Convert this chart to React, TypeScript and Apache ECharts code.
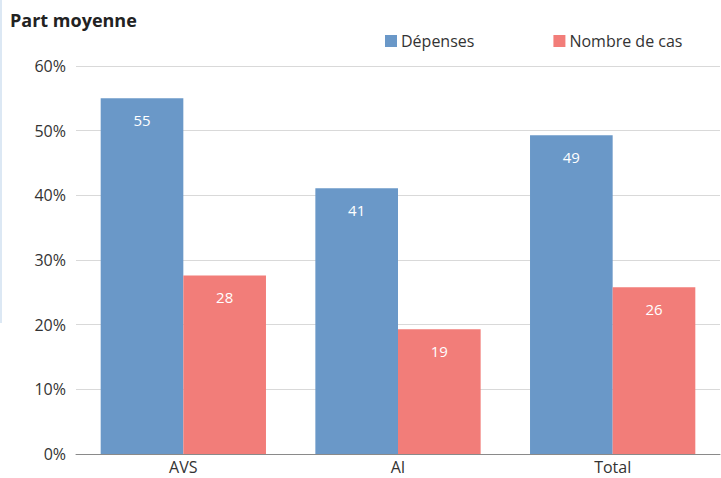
import React, { useEffect, useRef } from "react";
import * as echarts from "echarts";

const categories = ["AVS", "AI", "Total"];
const depenses = [55, 41.1, 49.3];
const nombreCas = [27.6, 19.3, 25.8];
const seriesNames = ["Dépenses", "Nombre de cas"];
const titleText = "Part moyenne";

export default function App() {
  const ref = useRef<HTMLDivElement>(null);
  useEffect(() => {
    const chart = echarts.init(ref.current!, null, { renderer: "svg" });
    const font = "'Open Sans', 'Noto Sans', sans-serif";
    const label = {
      show: true,
      position: "insideTop",
      distance: 14,
      color: "#ffffff",
      fontSize: 15,
      fontFamily: font,
      formatter: (p: any) => String(Math.round(p.value)),
    };
    chart.setOption({
      animation: false,
      textStyle: { fontFamily: font },
      title: {
        text: titleText,
        left: 5,
        top: 6,
        textStyle: { fontSize: 18, fontWeight: "bold", color: "#222", fontFamily: font },
      },
      legend: {
        data: seriesNames,
        left: 380,
        top: 28,
        itemWidth: 12,
        itemHeight: 12,
        itemGap: 79,
        icon: "rect",
        textStyle: { fontSize: 16, color: "#333", fontFamily: font, padding: [0, 0, 0, -1] },
      },
      graphic: [
        { type: "rect", shape: { x: 0, y: 0, width: 2, height: 323 }, style: { fill: "#dce8f4" } },
      ],
      grid: { left: 76, right: 1, top: 66, bottom: 24, containLabel: false },
      xAxis: {
        type: "category",
        data: categories,
        axisTick: { show: false },
        axisLine: { lineStyle: { color: "#8a8a8a" } },
        axisLabel: { fontSize: 16, lineHeight: 16, color: "#333", fontFamily: font, margin: 5 },
      },
      yAxis: {
        type: "value",
        min: 0,
        max: 60,
        interval: 10,
        axisLabel: { formatter: "{value}%", fontSize: 16, color: "#333", fontFamily: font, margin: 10 },
        splitLine: { lineStyle: { color: "#d9d9d9" } },
        axisLine: { show: false },
        axisTick: { show: false },
      },
      series: [
        {
          name: seriesNames[0],
          type: "bar",
          data: depenses,
          barGap: "0%",
          barCategoryGap: "23%",
          itemStyle: { color: "#6a98c8" },
          label,
        },
        {
          name: seriesNames[1],
          type: "bar",
          data: nombreCas,
          itemStyle: { color: "#f27d79" },
          label,
        },
      ],
    });
    return () => chart.dispose();
  }, []);
  return <div ref={ref} style={{ width: 721, height: 478, position: "absolute", left: 0, top: 0 }} />;
}
